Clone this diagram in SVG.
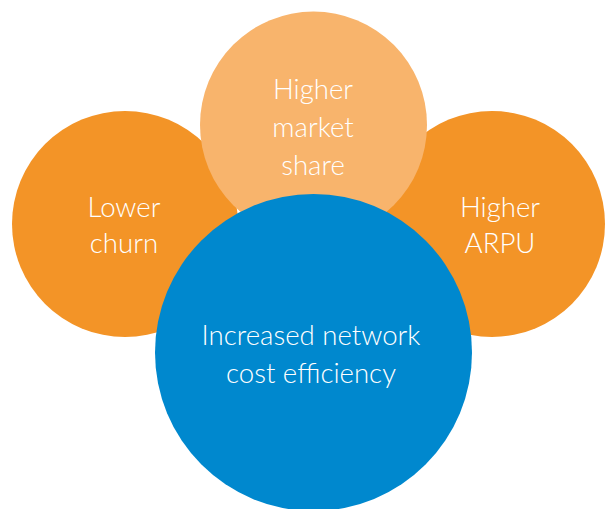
<svg xmlns="http://www.w3.org/2000/svg" width="606" height="509" viewBox="0 0 606 509">
<style>
.t{fill:#ffffff;font-family:Lato,"Open Sans","Liberation Sans",sans-serif;font-weight:300;font-size:27.6px;text-anchor:middle}
</style>
<rect width="606" height="509" fill="#ffffff"/>
<g id="lower-churn">
<circle cx="125" cy="224" r="113" fill="#F39427"/>
<text class="t" x="124" y="217">Lower</text>
<text class="t" x="124" y="253">churn</text>
</g>
<g id="higher-arpu">
<circle cx="492" cy="224" r="113" fill="#F39427"/>
<text class="t" x="500" y="217">Higher</text>
<text class="t" x="500" y="253">ARPU</text>
</g>
<g id="higher-market-share">
<circle cx="313.5" cy="125" r="113.5" fill="#F8B46C"/>
<text class="t" x="313" y="99">Higher</text>
<text class="t" x="313" y="137">market</text>
<text class="t" x="313" y="175">share</text>
</g>
<g id="network-cost">
<circle cx="313.5" cy="352.5" r="158.5" fill="#0088CE"/>
<text class="t" x="311" y="345">Increased network</text>
<text class="t" x="311" y="383">cost efficiency</text>
</g>
<g id="connectors"></g>
</svg>
